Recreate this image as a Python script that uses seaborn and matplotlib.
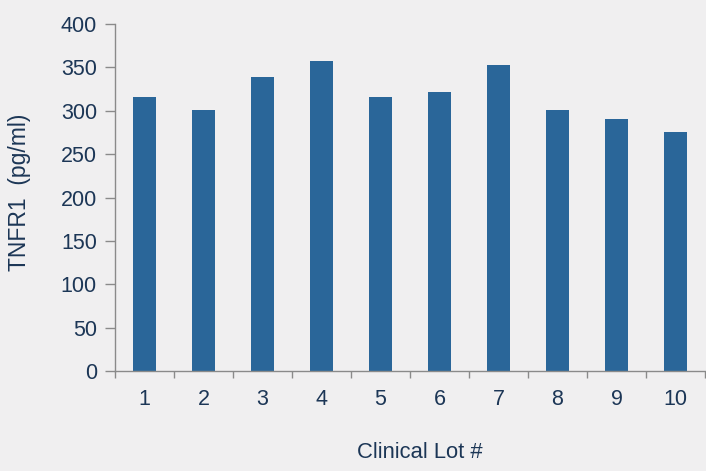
import matplotlib
matplotlib.use("Agg")
import matplotlib.pyplot as plt
import seaborn as sns
import pandas as pd

lots = ["1", "2", "3", "4", "5", "6", "7", "8", "9", "10"]
tnfr1 = [316, 301, 339, 357, 316, 322, 353, 301, 291, 275]
y_ticks = [0, 50, 100, 150, 200, 250, 300, 350, 400]

bg = "#F0EFF0"
bar_color = "#2A6699"
text_color = "#1C3656"
axis_color = "#8A8A8A"

sns.set_theme(style="white")
plt.rcParams["font.family"] = ["Liberation Sans", "DejaVu Sans"]

df = pd.DataFrame({"lot": lots, "value": tnfr1})

fig = plt.figure(figsize=(7.06, 4.71), dpi=100, facecolor=bg)
ax = fig.add_axes([115 / 706, 1 - 371 / 471, 590 / 706, 347 / 471])
ax.set_facecolor(bg)

sns.barplot(data=df, x="lot", y="value", color=bar_color, width=0.385,
            saturation=1, linewidth=0, ax=ax, order=lots)

ax.set_ylim(0, 400)
ax.set_xlim(-0.5, len(lots) - 0.5)
ax.set_yticks(y_ticks)
ax.set_yticklabels([str(v) for v in y_ticks])

# category separators on the x axis, labels at the centres
ax.set_xticks([i - 0.5 for i in range(len(lots) + 1)], minor=True)
ax.tick_params(axis="x", which="major", length=0, pad=13,
               labelsize=15.5, labelcolor=text_color)
ax.tick_params(axis="x", which="minor", length=5, width=1, color=axis_color,
               direction="out", bottom=True)
ax.tick_params(axis="y", length=7, width=1, color=axis_color, direction="out",
               left=True, pad=6, labelsize=15.5, labelcolor=text_color)

for side in ("top", "right"):
    ax.spines[side].set_visible(False)
for side in ("left", "bottom"):
    ax.spines[side].set_color(axis_color)
    ax.spines[side].set_linewidth(1)

ax.set_xlabel("Clinical Lot #", fontsize=15.8, color=text_color)
ax.set_ylabel("TNFR1  (pg/ml)", fontsize=16.5, color=text_color)
ax.xaxis.set_label_coords((420 - 115) / 590, -(453 - 371) / 347)
ax.yaxis.set_label_coords(-(115 - 20) / 590, (371 - 192) / 347)
ax.xaxis.label.set_va("center")
ax.yaxis.label.set_va("center")

fig.savefig("out.png", dpi=100, facecolor=bg)
